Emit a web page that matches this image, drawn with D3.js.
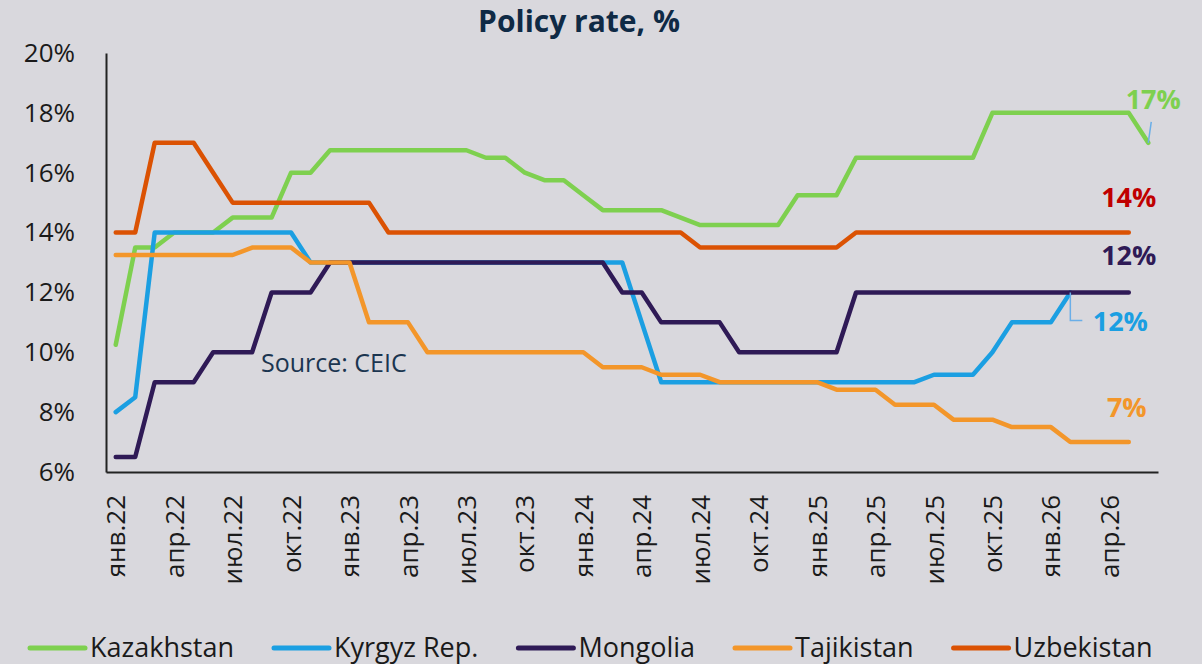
<!DOCTYPE html>
<html lang="en">
<head>
    <meta charset="UTF-8">
    <title>Policy rate</title>
    <script src="https://cdn.jsdelivr.net/npm/d3@7"></script>
    <style>
        body { margin: 0; background: #d9d8dd; }
        svg { display: block; font-family: "Open Sans", "Noto Sans", sans-serif; }
    </style>
</head>
<body>
<svg id="main" width="1202" height="664"></svg>
<script>
    // monthly, янв.22 .. июн.26 (index 0..53)
    const tickLabels = ['янв.22','апр.22','июл.22','окт.22','янв.23','апр.23','июл.23','окт.23',
        'янв.24','апр.24','июл.24','окт.24','янв.25','апр.25','июл.25','окт.25','янв.26','апр.26'];

    const kazakhstan = [10.25, 13.5, 13.5, 14, 14, 14, 14.5, 14.5, 14.5, 16, 16,
        16.75, 16.75, 16.75, 16.75, 16.75, 16.75, 16.75, 16.75, 16.5, 16.5, 16, 15.75, 15.75,
        15.25, 14.75, 14.75, 14.75, 14.75, 14.5, 14.25, 14.25, 14.25, 14.25, 14.25,
        15.25, 15.25, 15.25, 16.5, 16.5, 16.5, 16.5, 16.5, 16.5, 16.5,
        18, 18, 18, 18, 18, 18, 18, 18, 17];
    const kyrgyz = [8, 8.5, 14, 14, 14, 14, 14, 14, 14, 14,
        13, 13, 13, 13, 13, 13, 13, 13, 13, 13, 13, 13, 13, 13, 13, 13, 13,
        11, 9, 9, 9, 9, 9, 9, 9, 9, 9, 9, 9, 9, 9, 9,
        9.25, 9.25, 9.25, 10, 11, 11, 11, 12];
    const mongolia = [6.5, 6.5, 9, 9, 9, 10, 10, 10, 12, 12, 12,
        13, 13, 13, 13, 13, 13, 13, 13, 13, 13, 13, 13, 13, 13, 13,
        12, 12, 11, 11, 11, 11, 10, 10, 10, 10, 10, 10,
        12, 12, 12, 12, 12, 12, 12, 12, 12, 12, 12, 12, 12, 12, 12];
    const tajikistan = [13.25, 13.25, 13.25, 13.25, 13.25, 13.25, 13.25, 13.5, 13.5, 13.5,
        13, 13, 13, 11, 11, 11, 10, 10, 10, 10, 10, 10, 10, 10, 10,
        9.5, 9.5, 9.5, 9.25, 9.25, 9.25, 9, 9, 9, 9, 9, 9,
        8.75, 8.75, 8.75, 8.25, 8.25, 8.25, 7.75, 7.75, 7.75, 7.5, 7.5, 7.5,
        7, 7, 7, 7];
    const uzbekistan = [14, 14, 17, 17, 17, 16, 15, 15, 15, 15, 15, 15, 15, 15,
        14, 14, 14, 14, 14, 14, 14, 14, 14, 14, 14, 14, 14, 14, 14, 14,
        13.5, 13.5, 13.5, 13.5, 13.5, 13.5, 13.5, 13.5,
        14, 14, 14, 14, 14, 14, 14, 14, 14, 14, 14, 14, 14, 14, 14];

    const names = ['Kazakhstan', 'Kyrgyz Rep.', 'Mongolia', 'Tajikistan', 'Uzbekistan'];
    const series = [kazakhstan, kyrgyz, mongolia, tajikistan, uzbekistan];
    const lineColors = ['#7ed04f', '#1b9fe2', '#2f1a56', '#f3962a', '#db5203'];
    const endLabels = ['17%', '12%', '12%', '7%', '14%'];
    const labelColors = ['#7ed04f', '#1b9fe2', '#2f1a56', '#f3962a', '#c00000'];

    const font = '"Open Sans", "Noto Sans", sans-serif';
    let svg = d3.select('svg#main');
    let plotLeft = 106, plotRight = 1158, plotTop = 53, plotBottom = 472;

    let x = d3.scaleLinear().domain([-0.5, 53.5]).range([plotLeft, plotRight]);
    let y = d3.scaleLinear().domain([6, 20]).range([plotBottom, plotTop]);

    svg.append('text')
        .attr('x', 579).attr('y', 32)
        .attr('text-anchor', 'middle')
        .style('font-size', '30px').style('font-weight', 'bold')
        .style('fill', '#0f2a45')
        .text('Policy rate, %');

    // y axis
    let yAxis = svg.append('g')
        .attr('transform', 'translate(' + plotLeft + ',0)')
        .call(d3.axisLeft(y).tickValues(d3.range(6, 21, 2))
            .tickSize(0).tickPadding(31).tickFormat(d => d + '%'));
    yAxis.select('.domain').attr('stroke', '#222').attr('stroke-width', 2);
    yAxis.selectAll('text').style('font-size', '26px').style('fill', '#1a1a1a')
        .style('font-family', font);

    // x axis
    let xAxis = svg.append('g')
        .attr('transform', 'translate(0,' + plotBottom + ')')
        .call(d3.axisBottom(x).tickValues(tickLabels.map((d, i) => i * 3))
            .tickSize(0).tickFormat((d, i) => tickLabels[i]));
    xAxis.select('.domain').attr('stroke', '#222').attr('stroke-width', 2);
    xAxis.selectAll('text')
        .attr('transform', 'rotate(-90)')
        .attr('x', -23).attr('y', 0).attr('dy', '0.35em')
        .style('text-anchor', 'end')
        .style('font-size', '26px').style('fill', '#1a1a1a')
        .style('font-family', font);

    svg.append('text')
        .attr('x', 261).attr('y', 372)
        .style('font-size', '25px').style('fill', '#1b3550')
        .text('Source: CEIC');

    let line = d3.line()
        .x((d, i) => x(i))
        .y(d => y(d));

    series.forEach((s, k) => {
        svg.append('path')
            .datum(s)
            .attr('d', line)
            .attr('fill', 'none')
            .attr('stroke', lineColors[k])
            .attr('stroke-width', 4.5)
            .attr('stroke-linejoin', 'round')
            .attr('stroke-linecap', 'round');
    });

    // end-of-line labels
    let endPt = k => ({ex: x(series[k].length - 1), ey: y(series[k][series[k].length - 1])});
    let labelPos = [
        p => [p.ex + 5, p.ey - 34],   // Kazakhstan
        p => [p.ex + 50, p.ey + 39],  // Kyrgyz
        p => [p.ex, p.ey - 27],       // Mongolia
        p => [p.ex - 2, p.ey - 25],   // Tajikistan
        p => [p.ex, p.ey - 26]        // Uzbekistan
    ];
    endLabels.forEach((t, k) => {
        let p = endPt(k);
        let [lx, ly] = labelPos[k](p);
        svg.append('text')
            .attr('x', lx).attr('y', ly)
            .attr('text-anchor', 'middle')
            .style('font-size', '27px').style('font-weight', 'bold')
            .style('fill', labelColors[k])
            .text(t);
    });

    // leader lines
    let pk = endPt(0);
    svg.append('path')
        .attr('d', 'M' + (pk.ex + 3) + ',' + (pk.ey - 21) + 'L' + pk.ex + ',' + pk.ey)
        .attr('stroke', '#6aaee8').attr('stroke-width', 1.5).attr('fill', 'none');
    let pb = endPt(1);
    svg.append('path')
        .attr('d', 'M' + pb.ex + ',' + pb.ey + 'V' + (pb.ey + 28) + 'H' + (pb.ex + 12))
        .attr('stroke', '#6aaee8').attr('stroke-width', 1.5).attr('fill', 'none');

    // legend
    let lg = svg.append('g').attr('transform', 'translate(0,648)');
    let lx = 30;
    names.forEach((n, k) => {
        lg.append('line')
            .attr('x1', lx).attr('x2', lx + 55)
            .attr('y1', 0).attr('y2', 0)
            .attr('stroke', lineColors[k]).attr('stroke-width', 5)
            .attr('stroke-linecap', 'round');
        let t = lg.append('text')
            .attr('x', lx + 60).attr('y', 0).attr('dy', '0.35em')
            .style('font-size', '27px').style('fill', '#1a1a1a')
            .text(n);
        lx += 60 + t.node().getComputedTextLength() + 40;
    });
</script>
</body>
</html>
